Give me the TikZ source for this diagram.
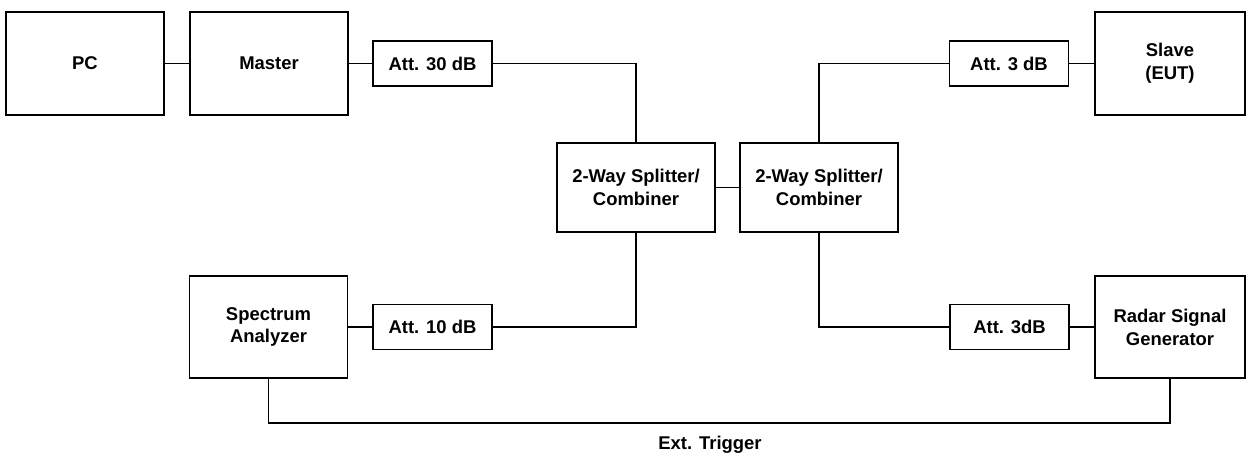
\documentclass[tikz,border=0pt]{standalone}
\usepackage{fontspec}
\setmainfont{Liberation Sans}
\usepackage{xcolor}
\usepackage{tikz}
\usetikzlibrary{positioning}

\tikzset{
  unit/.style={draw=black, line width=0.8pt, fill=white, align=center,
    font=\fontsize{10.5}{13}\selectfont\bfseries, inner sep=0pt,
    minimum width=3.16cm, minimum height=2.06cm},
  attbox/.style={unit, minimum width=2.38cm, minimum height=0.90cm},
  splitbox/.style={unit, minimum height=1.78cm},
  wire/.style={draw=black, line width=0.8pt},
  lbl/.style={font=\fontsize{10.5}{13}\selectfont\bfseries}
}

\begin{document}
\begin{tikzpicture}[x=1cm, y=1cm]
\useasboundingbox (0,0) rectangle (25,9.14);
% top row
\node[unit] (pc) at (1.70,7.87) {PC};
\node[unit] (master) at (5.38,7.87) {Master};
\node[attbox] (att30) at (8.65,7.87) {Att. 30 dB};
\node[attbox] (att3a) at (20.18,7.87) {Att. 3 dB};
\node[unit, minimum width=3.00cm] (slave) at (23.40,7.87) {Slave\\(EUT)};
% splitters
\node[splitbox] (split1) at (12.72,5.39) {2-Way Splitter/\\Combiner};
\node[splitbox] (split2) at (16.38,5.39) {2-Way Splitter/\\Combiner};
% bottom row
\node[unit, minimum height=2.04cm] (spec) at (5.37,2.60) {Spectrum\\Analyzer};
\node[attbox] (att10) at (8.65,2.60) {Att. 10 dB};
\node[attbox] (att3b) at (20.19,2.60) {Att. 3dB};
\node[unit, minimum width=3.00cm, minimum height=2.04cm] (radar) at (23.40,2.60) {Radar Signal\\Generator};
\coordinate (trig) at (14.2,0.68);
\node[lbl, below=0.14cm of trig] (triglbl) {Ext. Trigger};
% wiring
\draw[wire] (pc) -- (master);
\draw[wire] (master) -- (att30);
\draw[wire] (att30.east) -| (split1.north);
\draw[wire] (split1) -- (split2);
\draw[wire] (split2.north) |- (att3a.west);
\draw[wire] (att3a) -- (slave);
\draw[wire] (att10.east) -| (split1.south);
\draw[wire] (spec) -- (att10);
\draw[wire] (split2.south) |- (att3b.west);
\draw[wire] (att3b) -- (radar);
\draw[wire] (spec.south) |- (trig) -| (radar.south);
\end{tikzpicture}
\end{document}
